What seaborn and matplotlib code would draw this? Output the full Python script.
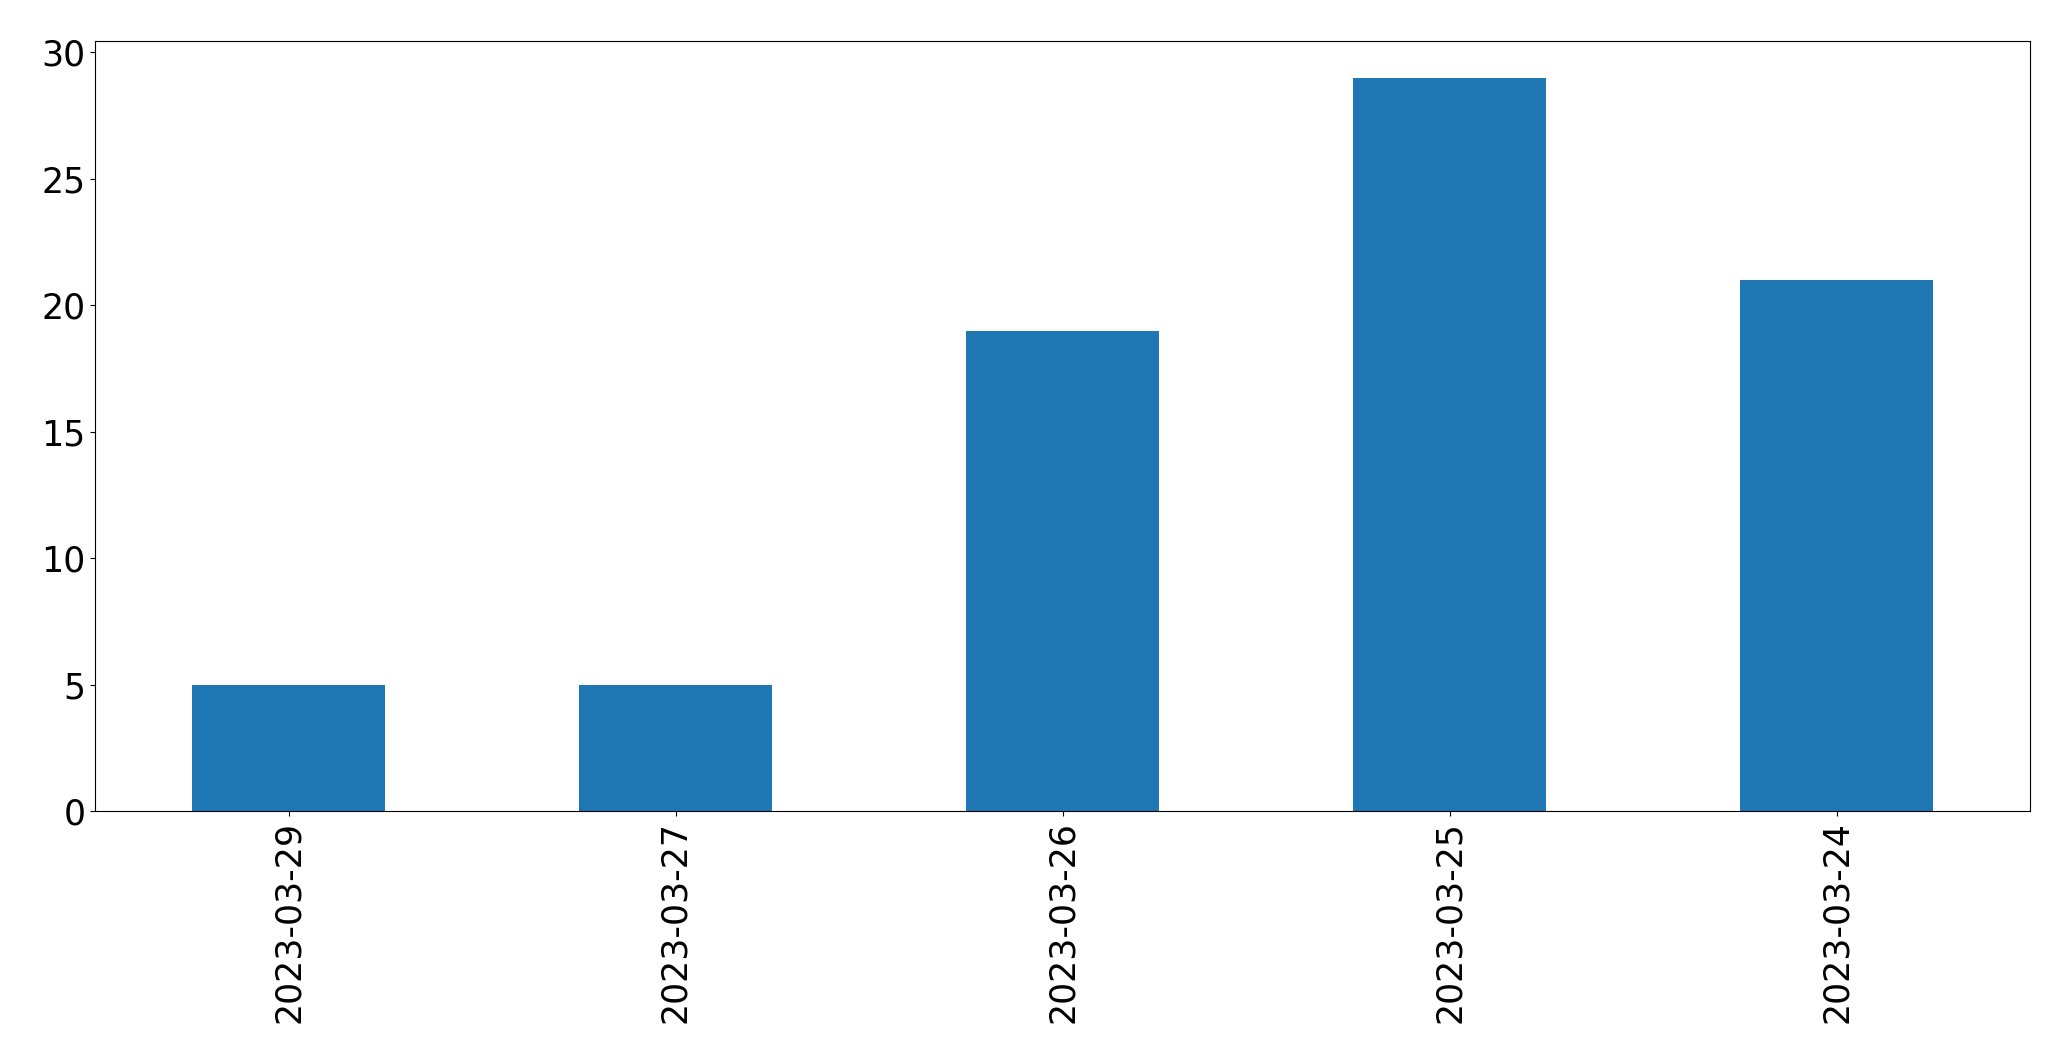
import matplotlib
matplotlib.use("Agg")
import matplotlib.pyplot as plt
import seaborn as sns
import pandas as pd

dates = ["2023-03-29", "2023-03-27", "2023-03-26", "2023-03-25", "2023-03-24"]
counts = [5, 5, 19, 29, 21]

sns.set_style("ticks")
plt.rcParams['font.family'] = ['DejaVu Sans']
plt.rcParams['text.color'] = 'black'
plt.rcParams['xtick.color'] = 'black'
plt.rcParams['ytick.color'] = 'black'
plt.rcParams['axes.edgecolor'] = 'black'

df = pd.DataFrame({"date": dates, "count": counts})

fig = plt.figure(figsize=(20.71, 10.63), dpi=100)
ax = fig.add_axes([95/2071, 1 - 811/1063, (2030 - 95)/2071, (811 - 41)/1063])
sns.barplot(data=df, x="date", y="count", color="#1f77b4", width=0.5, saturation=1,
            linewidth=0, ax=ax)
ax.set_xlabel("")
ax.set_ylabel("")
ax.set_xlim(-0.5, len(dates) - 0.5)
ax.set_ylim(0, 30.45)
ax.set_yticks([0, 5, 10, 15, 20, 25, 30])
ax.tick_params(axis="both", labelsize=25, length=3.5, pad=3.5, width=0.8,
               color="black", labelcolor="black")
plt.setp(ax.get_xticklabels(), rotation=90)
for s in ax.spines.values():
    s.set_visible(True)
    s.set_color("black")
    s.set_linewidth(0.8)
fig.savefig("out.png", dpi=100)
